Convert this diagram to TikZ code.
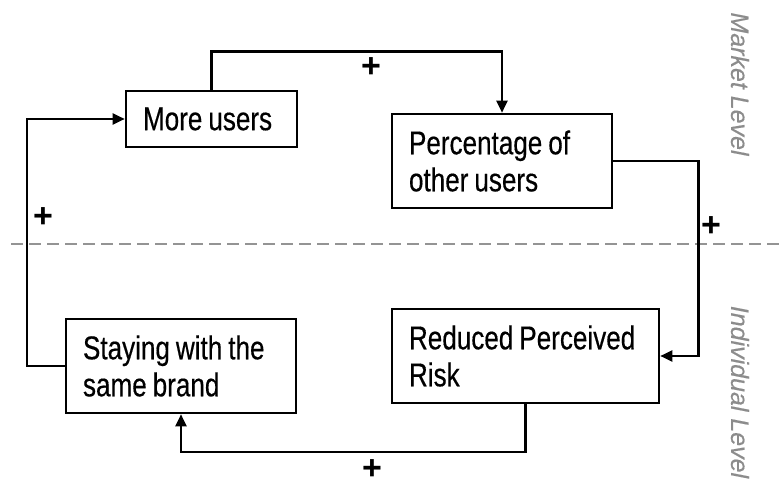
\documentclass[tikz,border=0pt]{standalone}
\usepackage{fontspec}
\setmainfont[FakeStretch=0.79, FakeBold=0.4]{Liberation Sans}
\newfontfamily\levelfont[FakeBold=0.3]{Liberation Sans}
\newfontfamily\signfont{Liberation Sans}
\usetikzlibrary{arrows.meta}
\tikzset{
  boxnode/.style={draw, line width=2.6pt, rectangle, align=left,
    inner xsep=17pt, inner ysep=0pt, minimum height=#1,
    font=\fontsize{33}{37}\selectfont,
    execute at begin node={\spaceskip=6pt plus 1pt\relax}},
  link/.style={line width=2.4pt, -{Triangle[length=12pt,width=11pt]}},
  sign/.style={font=\signfont\bfseries\fontsize{34}{34}\selectfont, inner sep=0pt},
  levellabel/.style={rotate=-90, text=black!45,
    font=\levelfont\itshape\fontsize{25}{25}\selectfont, inner sep=0pt},
}
\begin{document}
\begin{tikzpicture}[x=1pt, y=-1pt]
  \useasboundingbox (0,0) rectangle (780,486);

  % boundary between the two levels
  \draw[black!42, line width=2pt, dash pattern=on 12pt off 6pt] (11,244) -- (780,244);

  % variables
  \node[boxnode=56pt, text width=137pt] (more) at (211.5,119) {More users};
  \node[boxnode=94pt, text width=186pt] (pct)  at (502,161) {Percentage of\\other users};
  \node[boxnode=94pt, text width=233pt] (risk) at (525.5,356) {Reduced Perceived\\Risk};
  \node[boxnode=94pt, text width=196pt] (stay) at (181,366) {Staying with the\\same brand};

  % causal links
  \draw[link] (more.north) -- ++(0,-38) -| (pct.north);
  \draw[link] (pct.east) -- ++(85,0) |- (risk.east);
  \draw[link] (risk.south) -- ++(0,48) -| (stay.south);
  \draw[link] (stay.west) -- ++(-38,0) |- (more.west);

  % link polarities
  \node[sign] (s1) at (371,68) {+};
  \node[sign] (s2) at (711,227) {+};
  \node[sign] (s3) at (372,470) {+};
  \node[sign] (s4) at (43,218) {+};

  % level labels
  \node[levellabel] (market) at (740,84) {Market Level};
  \node[levellabel] (indiv) at (740,392) {Individual Level};
\end{tikzpicture}
\end{document}
